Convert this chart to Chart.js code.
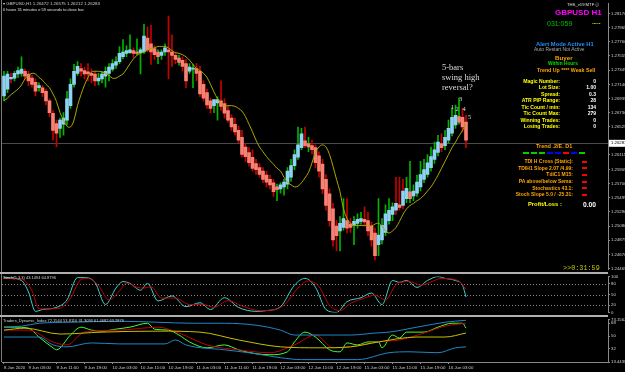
<!DOCTYPE html>
<html><head><meta charset="utf-8">
<script src="https://cdn.jsdelivr.net/npm/chart.js@4.4.1/dist/chart.umd.min.js"></script>
<style>
html,body{margin:0;padding:0;background:#000;width:625px;height:372px;overflow:hidden;position:relative;font-family:"Liberation Sans",Arial,sans-serif;}
canvas{position:absolute;left:0;}
.t{position:absolute;white-space:nowrap;line-height:1;}
.b{font-weight:bold;}
.r{text-align:right;}
.ser{font-family:"Liberation Serif","Times New Roman",serif;color:#dcdcdc;}
.ln{position:absolute;background:#a0a0a0;}
</style></head><body>
<canvas id="main" width="625" height="273" style="top:0;width:625px;height:273px"></canvas>
<canvas id="stoch" width="625" height="43" style="top:273px;width:625px;height:43px"></canvas>
<canvas id="tdi" width="625" height="56" style="top:316px;width:625px;height:56px"></canvas>
<div id="overlay"></div>
<script>
// ---------- DATA ----------
const symbolInfo = "GBPUSD,H1";
const headerPrices = ["1.26472","1.26575","1.26212","1.26283"];
const currentPrice = 1.26283;
const priceTicks = [1.28170,1.27965,1.27760,1.27555,1.27345,1.27140,1.26935,1.26730,1.26525,1.26115,1.25905,1.25700,1.25495,1.25290,1.25080,1.24875,1.24670,1.24465];
const timeTickBars = [0,7,15,23,31,39,47,55,63,71,79,87,95,103,111,119,127];
const timeLabels = ['8 Jun 2020','9 Jun 03:00','9 Jun 11:00','9 Jun 19:00','10 Jun 03:00','10 Jun 11:00','10 Jun 19:00','11 Jun 03:00','11 Jun 11:00','11 Jun 19:00','12 Jun 03:00','12 Jun 11:00','12 Jun 19:00','15 Jun 03:00','15 Jun 11:00','15 Jun 19:00','16 Jun 03:00'];

// Heiken Ashi bodies
const haOpen = [1.2697,1.2707,1.2722,1.2723,1.2729,1.2730,1.2733,1.2729,1.2723,1.2717,
1.2709,1.2709,1.2704,1.2690,1.2672,1.2657,1.2650,1.2656,1.2662,1.2683,
1.2714,1.2730,1.2737,1.2734,1.2732,1.2730,1.2729,1.2719,1.2722,1.2726,
1.2730,1.2736,1.2742,1.2747,1.2754,1.2759,1.2760,1.2763,1.2761,1.2760,
1.2761,1.2781,1.2773,1.2766,1.2761,1.2756,1.2761,1.2764,1.2761,1.2756,
1.2752,1.2749,1.2744,1.2733,1.2736,1.2737,1.2733,1.2714,1.2702,1.2690,
1.2683,1.2687,1.2690,1.2686,1.2676,1.2665,1.2656,1.2647,1.2637,1.2623,
1.2615,1.2608,1.2599,1.2593,1.2588,1.2582,1.2576,1.2571,1.2565,1.2562,
1.2565,1.2569,1.2579,1.2596,1.2608,1.2622,1.2632,1.2628,1.2625,1.2622,
1.2610,1.2598,1.2576,1.2555,1.2533,1.2508,1.2501,1.2506,1.2516,1.2511,
1.2509,1.2512,1.2515,1.2518,1.2516,1.2508,1.2498,1.2481,1.2488,1.2499,
1.2516,1.2525,1.2531,1.2539,1.2538,1.2548,1.2558,1.2552,1.2556,1.2565,
1.2576,1.2583,1.2593,1.2605,1.2615,1.2628,1.2625,1.2633,1.2643,1.2655,
1.2667,1.2666,1.2659];
const haClose = [1.2726,1.2729,1.2724,1.2730,1.2734,1.2736,1.2726,1.2719,1.2714,1.2704,
1.2712,1.2702,1.2690,1.2673,1.2647,1.2643,1.2662,1.2665,1.2693,1.2714,
1.2733,1.2740,1.2733,1.2729,1.2729,1.2727,1.2719,1.2723,1.2729,1.2733,
1.2739,1.2744,1.2747,1.2759,1.2761,1.2763,1.2764,1.2759,1.2759,1.2764,
1.2784,1.2764,1.2761,1.2757,1.2754,1.2761,1.2767,1.2761,1.2756,1.2750,
1.2746,1.2740,1.2719,1.2739,1.2737,1.2730,1.2700,1.2694,1.2684,1.2679,
1.2692,1.2692,1.2682,1.2672,1.2662,1.2652,1.2645,1.2633,1.2612,1.2609,
1.2600,1.2592,1.2590,1.2583,1.2576,1.2572,1.2568,1.2558,1.2561,1.2568,
1.2572,1.2588,1.2596,1.2612,1.2626,1.2642,1.2625,1.2623,1.2619,1.2600,
1.2588,1.2562,1.2538,1.2516,1.2488,1.2494,1.2512,1.2519,1.2505,1.2506,
1.2515,1.2518,1.2519,1.2514,1.2501,1.2488,1.2465,1.2495,1.2509,1.2526,
1.2531,1.2536,1.2541,1.2535,1.2559,1.2563,1.2548,1.2559,1.2572,1.2583,
1.2590,1.2600,1.2609,1.2619,1.2630,1.2622,1.2637,1.2650,1.2666,1.2669,
1.2659,1.2652,1.2633];
// real candle high / low and direction (1 = up, 0 = down)
const highPrice = [1.2733,1.2733,1.2730,1.2733,1.2739,1.2754,1.2736,1.2733,1.2727,1.2722,
1.2716,1.2712,1.2707,1.2693,1.2676,1.2662,1.2665,1.2673,1.2704,1.2722,
1.2743,1.2747,1.2744,1.2739,1.2744,1.2736,1.2733,1.2730,1.2733,1.2739,
1.2744,1.2750,1.2754,1.2769,1.2779,1.2770,1.2786,1.2767,1.2780,1.2767,
1.2801,1.2797,1.2800,1.2770,1.2764,1.2764,1.2773,1.2813,1.2786,1.2761,
1.2756,1.2754,1.2750,1.2744,1.2743,1.2744,1.2740,1.2719,1.2707,1.2694,
1.2690,1.2696,1.2719,1.2693,1.2683,1.2670,1.2665,1.2653,1.2647,1.2628,
1.2622,1.2619,1.2605,1.2599,1.2593,1.2588,1.2582,1.2576,1.2569,1.2571,
1.2576,1.2593,1.2605,1.2619,1.2652,1.2650,1.2652,1.2637,1.2633,1.2626,
1.2616,1.2605,1.2583,1.2562,1.2541,1.2516,1.2522,1.2548,1.2548,1.2519,
1.2522,1.2526,1.2528,1.2536,1.2528,1.2514,1.2505,1.2548,1.2519,1.2539,
1.2548,1.2542,1.2579,1.2579,1.2576,1.2579,1.2602,1.2568,1.2582,1.2602,
1.2605,1.2612,1.2623,1.2630,1.2640,1.2642,1.2647,1.2662,1.2680,1.2684,
1.2694,1.2679,1.2669];
const lowPrice = [1.2690,1.2702,1.2716,1.2719,1.2724,1.2726,1.2722,1.2712,1.2710,1.2697,
1.2704,1.2696,1.2684,1.2667,1.2633,1.2623,1.2637,1.2640,1.2655,1.2679,
1.2710,1.2727,1.2726,1.2722,1.2719,1.2716,1.2712,1.2713,1.2716,1.2710,
1.2719,1.2733,1.2737,1.2744,1.2751,1.2754,1.2759,1.2753,1.2757,1.2729,
1.2759,1.2761,1.2743,1.2750,1.2744,1.2750,1.2756,1.2722,1.2740,1.2744,
1.2742,1.2733,1.2709,1.2730,1.2709,1.2719,1.2696,1.2690,1.2679,1.2672,
1.2673,1.2662,1.2676,1.2665,1.2659,1.2647,1.2640,1.2629,1.2608,1.2602,
1.2595,1.2588,1.2583,1.2579,1.2571,1.2565,1.2562,1.2551,1.2545,1.2556,
1.2553,1.2562,1.2573,1.2590,1.2605,1.2619,1.2622,1.2616,1.2613,1.2593,
1.2579,1.2555,1.2531,1.2508,1.2479,1.2472,1.2472,1.2502,1.2498,1.2499,
1.2481,1.2505,1.2511,1.2508,1.2494,1.2479,1.2459,1.2465,1.2482,1.2494,
1.2511,1.2516,1.2525,1.2531,1.2533,1.2542,1.2542,1.2545,1.2551,1.2559,
1.2571,1.2579,1.2588,1.2599,1.2610,1.2616,1.2619,1.2628,1.2639,1.2650,
1.2656,1.2645,1.2622];
const candleUp = [1,1,0,1,1,1,0,0,0,0, 1,0,0,0,0,0,1,1,1,1, 1,1,0,0,0,0,0,1,1,1,
1,1,1,1,1,1,1,0,1,1, 1,0,0,0,1,1,1,0,0,0, 1,0,0,1,1,0,0,0,0,0,
1,1,0,0,0,0,0,0,0,0, 0,0,0,0,0,0,0,0,1,1, 1,1,1,1,1,1,0,1,0,0,
0,0,0,0,0,0,1,1,0,0, 1,1,1,0,0,0,0,1,1,1, 1,1,0,0,0,1,1,1,1,1,
1,1,1,1,1,0,1,1,1,1, 1,0,0];
// moving average (yellow)
const maValues = [1.2690,1.2694,1.2699,1.2703,1.2707,1.2713,1.2722,1.2727,1.2730,1.2729,
1.2724,1.2720,1.2714,1.2709,1.2700,1.2689,1.2673,1.2662,1.2653,1.2652,
1.2662,1.2683,1.2699,1.2713,1.2724,1.2732,1.2733,1.2733,1.2732,1.2730,
1.2727,1.2723,1.2723,1.2726,1.2729,1.2736,1.2744,1.2751,1.2756,1.2759,
1.2761,1.2764,1.2766,1.2767,1.2769,1.2769,1.2769,1.2767,1.2763,1.2760,
1.2759,1.2757,1.2754,1.2749,1.2743,1.2737,1.2734,1.2730,1.2724,1.2714,
1.2703,1.2693,1.2686,1.2683,1.2683,1.2683,1.2682,1.2679,1.2675,1.2667,
1.2656,1.2645,1.2633,1.2623,1.2616,1.2609,1.2603,1.2598,1.2592,1.2588,
1.2579,1.2572,1.2568,1.2565,1.2566,1.2571,1.2578,1.2586,1.2600,1.2615,
1.2623,1.2626,1.2623,1.2612,1.2595,1.2576,1.2558,1.2533,1.2519,1.2512,
1.2509,1.2509,1.2509,1.2509,1.2509,1.2508,1.2511,1.2512,1.2508,1.2501,
1.2498,1.2501,1.2506,1.2515,1.2525,1.2533,1.2538,1.2541,1.2545,1.2548,
1.2553,1.2559,1.2565,1.2573,1.2582,1.2592,1.2602,1.2612,1.2622,1.2630,
1.2639,1.2647,1.2656];

// Stochastic pane
const stochTicks = [100,80,50,20,0];
const stochLevels = [80,50,20];
const stochMainBars = [0,5,7,9,11,15,18,21,23,26,29,32,34,36,39,41,44,48,52,56,59,63,67,72,75,79,83,86,89,92,95,98,102,105,108,111,113,115,118,121,124,126,129,131,132];
const stochMain =     [98,89,57,3,8,14,35,97,97,84,22,68,86,81,62,81,32,46,16,27,8,41,14,3,5,16,76,95,70,8,0,30,41,54,22,89,84,89,70,89,100,95,89,76,43];
const stochSigBars = [0,5,8,10,13,16,19,22,24,27,30,33,35,38,40,42,45,49,53,57,60,64,68,73,76,80,84,87,90,93,96,99,103,106,109,112,114,116,119,122,125,127,130,132];
const stochSignal =  [95,93,60,10,10,12,40,92,95,75,35,60,82,70,68,72,40,40,22,22,14,33,18,5,6,20,68,88,72,20,5,25,40,48,35,78,85,86,76,85,95,94,87,65];

// Traders Dynamic Index pane
const tdiTicks = [73.1562,68,50,32,13.4438];
const tdiUpperBars = [0,5,10,19,33,44,54,63,72,79,83,90,99,106,110,118,126,132];
const tdiUpper =     [62.5,63.9,68,69.4,70.8,69.4,68,68,65.2,58.3,51.4,51.4,51.4,54.2,55.5,62.5,69.4,72.2];
const tdiLowerBars = [0,5,10,14,18,25,33,46,49,52,63,70,79,85,101,110,116,124,129,132];
const tdiLower =     [48.6,48.6,48.6,37.5,34.8,40.3,38.9,38.9,44.5,37.5,30.6,26.5,19.5,16.8,16.8,26.5,27.8,26.5,33.4,34.8];
const tdiMidBars = [0,6,16,28,44,56,67,79,90,99,107,118,126,132];
const tdiMid =     [58.3,61.1,52.8,55.5,56.9,55.5,44.5,34.8,33.4,34.8,41.7,48.6,48.6,54.2];
const tdiRsiBars = [0,3,7,10,14,15,19,22,25,28,32,36,41,43,47,50,53,58,63,67,72,76,81,83,86,89,93,96,98,101,104,107,108,111,113,115,120,124,128,131,132];
const tdiRsi =     [62.5,62.5,61.1,48.6,33.4,30.6,51.4,62.5,58.3,56.9,59.7,62.5,68,59.7,58.3,51.4,41.7,33.4,37.5,30.6,25.1,23.7,27.8,41.7,55.5,48.6,30.6,27.8,40.3,37.5,41.7,41.7,33.4,51.4,47.2,55.5,55.5,62.5,68,68,61.1];
const tdiSigBars = [0,7,14,18,23,33,44,50,58,67,76,83,89,94,99,107,113,120,126,132];
const tdiSignal =  [58.3,58.3,41.7,37.5,55.5,58.3,62.5,54.2,37.5,30.6,26.5,37.5,51.4,33.4,34.8,41.7,44.5,54.2,63.9,68];

// ---------- LAYOUT / STYLE ----------
const X_MIN = -0.57, X_MAX = 172.57;
const FONT = '"Liberation Sans", Arial, sans-serif';
const AX = '#d0d0d0', GRID = '#8a8a8a';

function xScale(show){
  const s = {type:'linear', min:X_MIN, max:X_MAX, offset:false, display:show};
  if(show){
    Object.assign(s,{
      afterFit(sc){ sc.height = 10; },
      afterBuildTicks(sc){ sc.ticks = timeTickBars.map(v=>({value:v})); },
      ticks:{autoSkip:false, maxRotation:0, align:'start', padding:1, color:AX, font:{size:4.3, family:FONT},
        callback:(v,i)=>timeLabels[i]},
      grid:{drawOnChartArea:false, color:GRID, tickLength:2},
      border:{color:GRID}
    });
  }
  return s;
}
function yScale(min,max,ticks,fmt){
  return {position:'right', min, max,
    afterFit(sc){ sc.width = 17; },
    afterBuildTicks(sc){ sc.ticks = ticks.map(v=>({value:v})); },
    ticks:{autoSkip:false, padding:1, color:AX, font:{size:4.3, family:FONT}, callback:fmt},
    grid:{drawOnChartArea:false, color:GRID, tickLength:2},
    border:{color:GRID}};
}
const baseOpts = (pad, scales)=>({responsive:false, animation:false, events:[],
  layout:{padding:pad}, plugins:{legend:{display:false}, tooltip:{enabled:false}}, scales});

const pricePlugin = {id:'price',
  beforeDatasetsDraw(c){
    const y = Math.round(c.scales.y.getPixelForValue(currentPrice))+0.5, a=c.chartArea, ctx=c.ctx;
    ctx.save(); ctx.strokeStyle='#4a4a4a'; ctx.lineWidth=1;
    ctx.beginPath(); ctx.moveTo(a.left,y); ctx.lineTo(a.right,y); ctx.stroke(); ctx.restore();
  },
  afterDraw(c){
    const y = c.scales.y.getPixelForValue(currentPrice), a=c.chartArea, ctx=c.ctx;
    ctx.save(); ctx.fillStyle='#ffffff'; ctx.fillRect(a.right+1, y-3.5, 16, 7);
    ctx.fillStyle='#000'; ctx.font='4.3px '+FONT; ctx.textBaseline='middle'; ctx.textAlign='left';
    ctx.fillText(currentPrice.toFixed(5), a.right+3, y); ctx.restore();
  }};

new Chart(document.getElementById('main'), {
  type:'bar',
  data:{datasets:[
    {type:'line', data:maValues.map((v,i)=>({x:i,y:v})), borderColor:'#a9a800', borderWidth:1,
      pointRadius:0, tension:0.35, order:0},
    {data:haOpen.map((o,i)=>({x:i,y:[o,haClose[i]]})),
      backgroundColor:haOpen.map((o,i)=>haClose[i]>=o?'#8fd3f2':'#fa8072'),
      barThickness:3, grouped:false, minBarLength:1, order:1},
    {data:lowPrice.map((l,i)=>({x:i,y:[l,highPrice[i]]})),
      backgroundColor:candleUp.map(u=>u?'#00b400':'#c80000'),
      barThickness:1, grouped:false, order:2}
  ]},
  options:baseOpts({left:2,right:0,top:1,bottom:1},{
    x:xScale(false),
    y:yScale(1.24451,1.28313,priceTicks,v=>v.toFixed(5))
  }),
  plugins:[pricePlugin]
});

const levelPlugin = {id:'levels', beforeDatasetsDraw(c){
  const a=c.chartArea, ctx=c.ctx; ctx.save(); ctx.strokeStyle='#8a8a8a'; ctx.lineWidth=1; ctx.setLineDash([1,2]);
  stochLevels.forEach(l=>{const y=Math.round(c.scales.y.getPixelForValue(l))+0.5;
    ctx.beginPath(); ctx.moveTo(a.left,y); ctx.lineTo(a.right,y); ctx.stroke();});
  ctx.restore();}};
const pts = (bars,vals)=>bars.map((b,i)=>({x:b,y:vals[i]}));
const lineDs = (bars,vals,color)=>({data:pts(bars,vals), borderColor:color, borderWidth:1, pointRadius:0,
  cubicInterpolationMode:'monotone'});

new Chart(document.getElementById('stoch'), {
  type:'line',
  data:{datasets:[ lineDs(stochSigBars,stochSignal,'#c00000'), lineDs(stochMainBars,stochMain,'#3fd0d0') ]},
  options:baseOpts({left:2,right:0,top:3,bottom:3},{
    x:xScale(false),
    y:yScale(0,100,stochTicks,v=>String(v))
  }),
  plugins:[levelPlugin]
});

new Chart(document.getElementById('tdi'), {
  type:'line',
  data:{datasets:[
    lineDs(tdiUpperBars,tdiUpper,'#1f86c8'),
    lineDs(tdiLowerBars,tdiLower,'#1f86c8'),
    lineDs(tdiMidBars,tdiMid,'#c8c000'),
    lineDs(tdiSigBars,tdiSignal,'#c00000'),
    lineDs(tdiRsiBars,tdiRsi,'#40ff30')
  ]},
  options:baseOpts({left:2,right:0,top:3,bottom:0},{
    x:xScale(true),
    y:yScale(13.4438,73.1562,tdiTicks,v=>Number.isInteger(v)?String(v):v.toFixed(4))
  })
});

// ---------- TEXT OVERLAY ----------
const ov = document.getElementById('overlay');
function txt(s, left, top, size, color, cls, extra){
  const d=document.createElement('div'); d.className='t '+(cls||''); d.textContent=s;
  d.style.left=left+'px'; d.style.top=top+'px'; d.style.fontSize=size+'px'; d.style.color=color;
  if(extra) Object.assign(d.style, extra); ov.appendChild(d); return d;
}
function rtxt(s, right, top, size, color, cls){
  const d=txt(s,0,top,size,color,cls); d.style.left='auto'; d.style.right=(625-right)+'px'; return d;
}
function line(l,t,w,h,c){const d=document.createElement('div'); d.className='ln';
  Object.assign(d.style,{left:l+'px',top:t+'px',width:w+'px',height:h+'px',background:c||'#a0a0a0'}); ov.appendChild(d);}

// frame / pane separators
line(1,0,1,362,'#7a7a7a');
line(0,272,608,2,'#b0b0b0');
line(0,315,608,2,'#b0b0b0');

txt('\u25BE '+symbolInfo+'  '+headerPrices.join(' '), 3, 1.5, 4.4, '#d0d0d0');
txt('0 hours 31 minutes e 59 seconds to close bar', 3, 8, 4, '#e0e0e0');

txt('THS_v19 MTF \u24D8', 567, 3, 4.2, '#e0e0e0');
txt('GBPUSD H1', 555, 9, 8, '#ff00ff', 'b');
txt('031:059', 547, 19.5, 7, '#00c000');
txt('-----', 592, 20.5, 5, '#ffff00', 'b');
txt('Alert Mode Active H1', 536, 41.5, 5.8, '#1e90ff', 'b');
txt('Auto Restart Not Active', 534, 48, 4.9, '#a8a8a8');
txt('Buyer', 555, 54.5, 6.2, '#ffa500', 'b');
txt('Within Hours', 548, 61.5, 4.8, '#00e000', 'b');
txt('Trend Up **** Weak Sell', 537, 67.5, 5.25, '#ffa500', 'b');

const infoLabels = ['Magic Number:','Lot Size:','Spread:','ATR PIP Range:','Tic Count / min:','Tic Count Max:','Winning Trades:','Losing Trades:'];
const infoValues = ['0','1.00','0.3','28','134','279','0','0'];
const infoY = [78.5,85,91.5,98,104.5,111,117.5,124];
infoLabels.forEach((s,i)=>{ rtxt(s,560,infoY[i],5.1,'#ffff00','b'); rtxt(infoValues[i],596,infoY[i],5,'#ffffff','b'); });

txt('Trend .2/E. D1', 536, 144, 5.5, '#ffa500', 'b');
const trendColors = ['#00d000','#00d000','#00d000','#0000ff','#0000ff','#ff0000','#0000ff','#00d000'];
trendColors.forEach((c,i)=>line(523+i*8,152,6,2,c));
const sigLabels = ['TDI H Cross (Static):','TDIH1 Slope 2.07 /4.99:','TdiC1 M15:','PA above/below Sema:','Stochastics 43.1:','Stoch Slope 5.0 / -25.31:'];
const sigY = [161.7,168.3,175,181.7,188.3,195];
sigLabels.forEach((s,i)=>{ rtxt(s,573,sigY[i]-2.6,5,'#ffa500','b'); line(582,sigY[i]-1,5,2,'#ff0000'); });

txt('Profit/Loss :', 528, 202, 5.8, '#ffff00', 'b');
txt('0.00', 583, 202, 6.7, '#ffffff', 'b');
txt('>>0:31:59', 563, 264.5, 6.8, '#c8c800', '', {fontFamily:'"Liberation Mono",monospace'});

txt('5-bars', 442, 62.5, 8.5, '#dcdcdc', 'ser');
txt('swing high', 442, 72.5, 8.5, '#dcdcdc', 'ser');
txt('reversal?', 442, 82.5, 8.5, '#dcdcdc', 'ser');
txt('3', 459, 95.5, 6.5, '#dcdcdc', 'ser');
txt('1', 451, 104, 6.5, '#dcdcdc', 'ser');
txt('2', 455.5, 106, 6.5, '#dcdcdc', 'ser');
txt('4', 462.5, 106, 6.5, '#dcdcdc', 'ser');
txt('5', 468, 113.5, 6.5, '#dcdcdc', 'ser');

txt('Stoch(5,3,3) 43.1494 64.8796', 3, 276, 4, '#d0d0d0');
txt('Traders_Dynamic_Index 72.1544 53.8110 31.3093 61.4682 63.2876', 3, 319, 4, '#d0d0d0');
</script>
</body></html>
